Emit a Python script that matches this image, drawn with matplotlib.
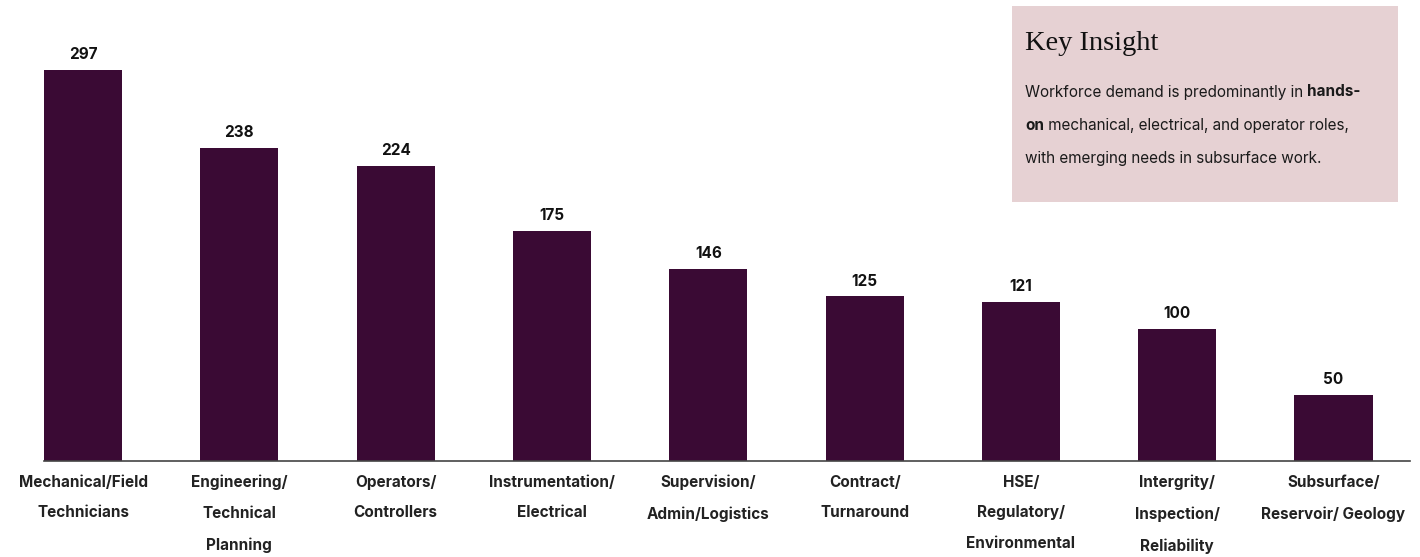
import matplotlib.pyplot as plt
from matplotlib.patches import Rectangle

plt.rcParams['font.family'] = ['Inter', 'DejaVu Sans']

categories = ['Mechanical/Field\nTechnicians', 'Engineering/\nTechnical\nPlanning',
              'Operators/\nControllers', 'Instrumentation/\nElectrical',
              'Supervision/\nAdmin/Logistics', 'Contract/\nTurnaround',
              'HSE/\nRegulatory/\nEnvironmental', 'Intergrity/\nInspection/\nReliability',
              'Subsurface/\nReservoir/ Geology']
values = [297, 238, 224, 175, 146, 125, 121, 100, 50]

bar_color = '#3a0a34'

fig = plt.figure(figsize=(14.2, 5.57), dpi=100)
ax = fig.add_axes([0.031, 0.1724, 0.962, 0.756])

x = list(range(len(values)))
ax.bar(x, values, width=0.5, color=bar_color)
for xi, v in zip(x, values):
    ax.text(xi, v + 6, str(v), ha='center', va='bottom', fontsize=11,
            fontweight='bold', color='#111111')

ax.set_xlim(-0.25, 8.49)
ax.set_ylim(0, 320)
ax.set_yticks([])
ax.set_xticks(x)
ax.set_xticklabels(categories, fontsize=11, fontweight='bold', color='#222222',
                   linespacing=2.3)
ax.tick_params(axis='x', length=0, pad=10)
for s in ['top', 'right', 'left']:
    ax.spines[s].set_visible(False)
ax.spines['bottom'].set_color('#444444')
ax.spines['bottom'].set_linewidth(1.2)

# insight box
fig.add_artist(Rectangle((1012 / 1420, 1 - 202 / 557), 386 / 1420, 196 / 557,
                         transform=fig.transFigure, facecolor='#e6d1d3',
                         edgecolor='none'))
fig.text(1025 / 1420, 1 - 44 / 557, 'Key Insight', fontsize=20.5,
         family=['Liberation Serif', 'DejaVu Serif'], va='center', color='#111111')

renderer = fig.canvas.get_renderer()


def mixed_line(parts, x0, y0):
    xpos = x0
    for txt, bold in parts:
        t = fig.text(xpos, y0, txt, fontsize=11, va='center', color='#1a1a1a',
                     fontweight='bold' if bold else 'normal')
        bb = t.get_window_extent(renderer=renderer)
        xpos += bb.width / fig.bbox.width


lines = [
    [('Workforce demand is predominantly in ', False), ('hands-', True)],
    [('on', True), (' mechanical, electrical, and operator roles,', False)],
    [('with emerging needs in subsurface work.', False)],
]
for i, parts in enumerate(lines):
    mixed_line(parts, 1025 / 1420, 1 - (92 + 33 * i) / 557)

fig.savefig('out.png', dpi=100)
